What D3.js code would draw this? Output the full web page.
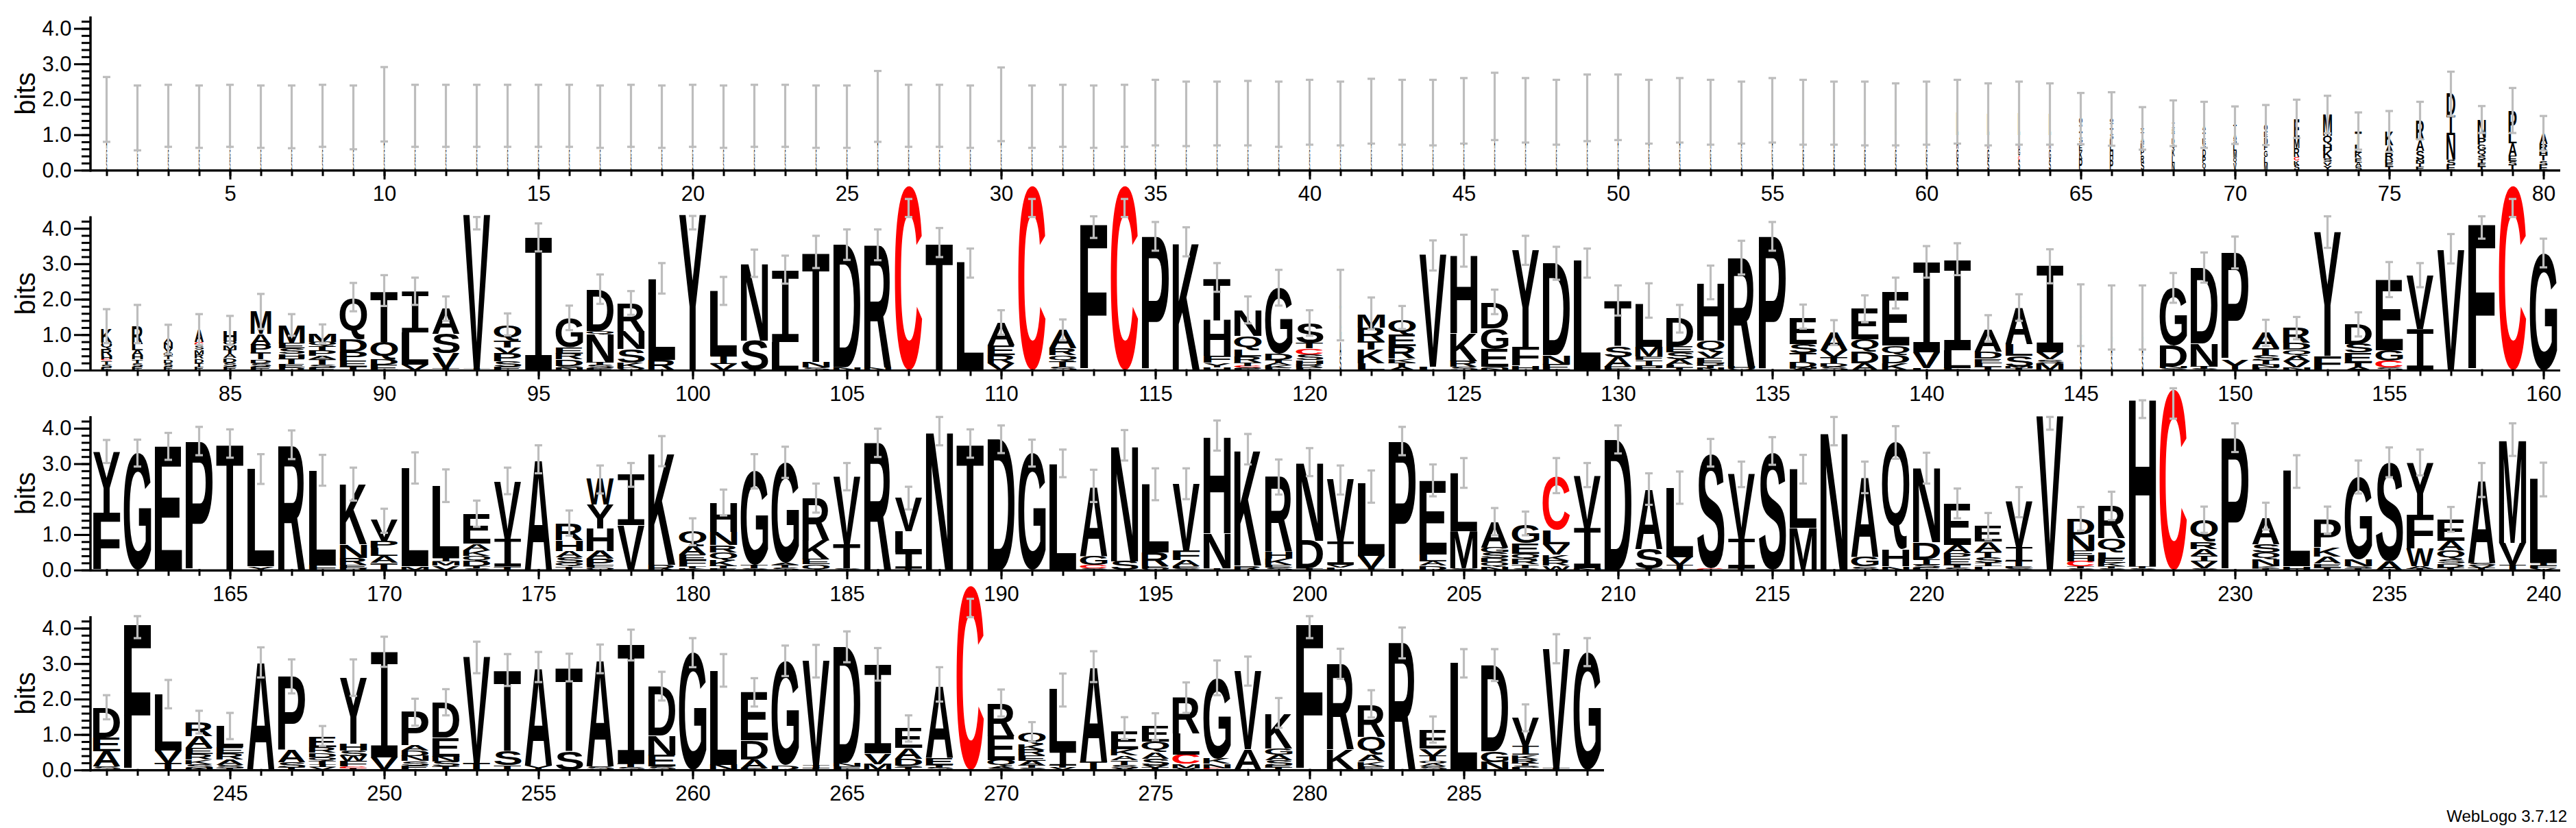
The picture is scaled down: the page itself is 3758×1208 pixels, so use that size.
<!DOCTYPE html>
<html><head><meta charset="utf-8">
<script src="https://cdn.jsdelivr.net/npm/d3@7"></script>
<style>body{margin:0;background:#fff}svg{display:block}</style>
</head><body>
<svg id="chart" width="3758" height="1208"></svg>
<script>
// ---------------- DATA ----------------
const rowStarts = [1, 81, 161, 241];
const rowLengths = [80, 80, 80, 49];
const yTickMajor = [0, 1, 2, 3, 4];
const footerText = "WebLogo 3.7.12";
const yLabel = "bits";

// stacks: letters bottom -> top, each "Letter+height(bits)"
const stacksRow1 = [
"S.3 G.3 A.4 L.72","S.3 G.3 A.4 L.48","S.3 G.3 A.4 L.54","S.3 G.3 A.4 L.51","S.3 G.3 A.4 L.54",
"S.3 G.3 A.4 L.51","S.3 G.3 A.4 L.5","S.3 G.3 A.4 L.54","S.3 G.3 A.4 L.49","S.3 G.3 A.4 L.86",
"S.3 G.3 A.4 L.54","S.3 G.3 A.4 L.54","S.3 G.3 A.4 L.54","S.3 G.3 A.4 L.54","S.3 G.3 A.4 L.54",
"S.3 G.3 A.4 L.54","S.3 G.3 A.4 L.51","S.3 G.3 A.4 L.54","S.3 G.3 A.4 L.51","S.3 G.3 A.4 L.54",
"S.3 G.3 A.4 L.51","S.3 G.3 A.4 L.54","S.3 G.3 A.4 L.54","S.3 G.3 A.4 L.51","S.3 G.3 A.4 L.51",
"S.3 G.3 A.4 L.8","S.3 G.3 A.4 L.54","S.3 G.3 A.4 L.54","S.3 G.3 A.4 L.51","S.3 G.3 A.4 L.86",
"S.3 G.3 A.4 L.51","S.3 G.3 A.4 L.54","S.3 G.3 A.4 L.51","S.3 G.3 A.4 L.54","S.3 G.3 A.4 L.63",
"S.3 G.3 A.4 L.59","S.3 G.3 A.4 L.6","S.3 G.3 A.4 L.61","S.3 G.3 A.4 L.58","S.3 G.3 A.4 L.64",
"S.3 G.3 A.4 L.6","S.3 G.3 A.4 L.67","S.3 G.3 A.4 L.64","S.3 G.3 A.4 L.63","S.3 G.3 A.4 L.68",
"S.3 G.3 A.4 L.8","S.3 G.3 A.4 L.69","S.3 G.3 A.4 L.64","S.3 G.3 A.4 L.76","S.3 G.3 A.4 L.78",
"S.3 G.3 A.4 L.65","S.3 G.3 A.4 L.69","S.3 G.3 A.4 L.64","S.3 G.3 A.4 L.63","S.3 G.3 A.4 L.69",
"S.3 G.3 A.4 L.64","S.3 G.3 A.4 L.61","S.3 G.3 A.4 L.6","S.3 G.3 A.4 L.58","S.3 G.3 A.4 L.61",
"S.3 G.3 A.4 L.65","S.3 G.3 A.4 L.58","S.3 C.1 G.2 A.4 L.61","S.3 G.3 A.4 L.59",
"P.32 K.22 E.18 C.05 S.15 T.15 I.2 Q.2","P.3 H.22 L.35 S.15 T.15 I.15 Q.14","S.22 R.2 P.15 E.2 A.15 T.15 V.13",
"N.2 L.2 K.2 Q.15 D.15 T.15 S.13 I.15","Q.2 P.2 D.2 S.15 E.15 T.15 I.1 A.13","V.2 Q.15 M.2 L.2 S.13 A.15 T.25",
"M.2 L.18 G.18 F.17 D.2 E.15 Q.2","S.15 K.12 C.1 R.25 M.28 E.55","Y.13 V.1 S.1 K.22 H.18 Q.25 M.59",
"S.1 A.12 E.13 K.14 L.22 T.4","T.1 E.1 D.1 R.2 A.2 K.4","E.1 T.1 N.1 S.25 A.3 R.55",
"E.14 S.15 N.71 I.55 D.61","T.1 E.1 I.1 S.12 Q.15 G.15 P.2 N.5","T.14 S.12 E.15 A.35 L.28 P.62",
"E.14 S.13 T.15 H.12 R.2 A.3"
];
const stacksRow2 = [
"E.08 S.08 T.1 C.04 H.1 R.2 Q.18 K.4","E.1 S.1 T.1 H.12 A.14 L.17 R.5","E.1 S.1 D.1 T.1 G.1 V.12 N.15 A.12",
"E.1 T.1 D.12 R.12 M.13 S.12 C.1 A.35","E.1 S.12 D.12 A.12 T.12 M.12 Q.12 H.3","E.1 S.1 D.1 T.2 P.22 A.3 M.66",
"D.08 E.1 T.15 H.13 S.15 E.15 M.5","E.08 S.08 T.15 A.1 P.15 T.12 Q.12 M.22","T.1 E.17 P.25 D.35 Q1.16",
"E.15 D.15 Q.5 T1.43","V.15 L.92 I1.16","T.05 V.42 S.55 A.72","I.05 V4.34","E.1 S.14 P.23 V.17 T.19 Q.43",
"I3.74","N.06 S.06 D.18 R.17 E.17 G.81","E.05 S.1 T.06 N.8 Q.1 D1.17","Q.06 K.14 S.39 N.5 R.78","R.29 L2.29",
"Y4.39","V.17 I.23 L1.83","S.84 N2.19","L.8 I2.02","S.08 N.16 T3.1","N.08 D3.47","N.07 R3.45","C5.2","T3.6",
"L3.05","V.2 R.23 E.27 A.65","C5.2","S.1 T.15 Q.17 R.19 A.52","F4.1","C5.2","P3.77","K3.61",
"H.08 Y.13 F.19 H1.02 T1.17","E.04 S.04 C.04 T.1 R.16 L.2 Q.38 N.72","E.06 K.07 A.08 T.08 D.16 G1.87",
"E.08 R.1 H.11 S.16 C.16 T.16 S.55","S.4 A.4 G.5 T.53","L.19 K.39 T.23 R.39 M.38","A.1 T.12 K.1 R.35 E.32 Q.41",
"L.1 V3.16","S.1 R.16 K.78 H2.22","N.05 S.05 E.5 G.58 D.72","H.12 F.52 Y2.75","E.16 N.26 D2.61","L3.1",
"E.05 P.05 A.27 S.3 T1.29","E.06 H.06 I.16 F.1 M.28 L1.21","T.07 L.08 A.15 S.2 E.17 D.78",
"N.06 T.07 D.07 E.14 V.17 Q.32 H1.63","Q.05 H.05 R3.07","P3.77","A.04 N.04 D.15 T.24 S.26 E.75",
"S.1 D.1 T.17 V.2 A.49","A.2 D.32 Q.35 E.87","K.2 D.22 Q.27 E1.5","L.05 V.45 I2.55","F.06 L.5 I2.55",
"T.1 L.1 E.13 D.2 A.63","T.05 M.05 S.3 L.33 A1.03","M.2 S.1 V.2 I2.44","S.4 A.4 G.35 T.4","S.4 A.35 G.35 T.38",
"S.4 A.35 G.35 T.38","S.05 N.05 D.6 G1.62","S.04 T.06 N.66 D2.14","Y.3 P3.02","E.07 N.08 I.12 S.15 T.2 A.44",
"N.08 V.17 A.16 Q.17 D.2 R.41","F.4 Y3.5","A.1 T.12 E.27 S.24 D.56","S.07 C.2 G.3 E1.98","I1.16 V1.52",
"V3.39","F4.1","C5.2","G3.3"
];
const stacksRow3 = [
"F1.6 Y1.73","G3.28","E3.49","P3.62","T3.57","Y.1 L2.76","R3.5","F.15 L2.66","D.06 E.09 R.2 N.38 K1.7",
"T.2 A.2 L.22 P.2 V.59","M.1 L2.77","V.12 M.13 I.1 L2.03","S.05 T.05 D.15 Q.15 K.16 A.18 E.85","T.1 I.79 V1.62",
"A3.11","T.1 Q.1 S.16 A.18 H.3 R.48","Q.06 F.07 P.19 A.22 H.64 Y.67 W.73","V1.27 I1.43","R.15 K3.18",
"K.05 T.05 F.18 E.15 A.25 Q.43","E.05 T.06 K.17 Q.22 R.2 N.38 H.82","S.06 T.09 G2.64","S.08 T.07 A.05 G2.83",
"Q.16 E.14 K.55 R1.19","S.05 T.68 V1.9","R3.59","T.05 I.45 L.6 V.93","N3.92","T3.57","D3.7","G3.3","L3.01",
"S.05 C.1 G.25 A1.96","S.25 N3.27","Q.05 E.05 R.4 L1.93","S.05 E.05 A.18 F.28 V1.88","I.05 N.98 H2.75",
"R.13 K3.28","S.07 E.08 K.18 H.2 R2.1","T.05 D.78 N2.2","L.07 V.08 I.65 V1.75","I.05 V.35 L2.05","P3.62",
"D.12 A.12 L.2 E2.07","S.05 M1.05 L1.63","N.1 Q.12 D.12 S.15 G.15 A.73","S.06 T.1 R.15 Q.15 E.3 G.51",
"W.12 R.15 K.16 V.3 L.4 C1.5","N.05 I1.13 V1.49","D3.68","T.05 S.55 A1.69","I.15 V.22 L1.95","C.05 S3.22",
"T.05 I.83 V1.82","S3.3","M1.2 L1.66","N3.9","S.1 G.28 A2.25","N.1 H.47 Q3.05","E.07 S.08 I.15 D.48 N2.1",
"S.08 T.06 E.18 P.15 A.23 E1.17","L.1 I.1 S.15 T.17 A.28 E.44","S.05 E.05 T.15 I.4 V1.28","V4.35",
"S.05 T.05 C.15 H.15 E.15 N.45 D.45","S.05 T.05 K.1 E.12 L.18 Q.4 R.91","S.05 T.05 H4.76","C5.1",
"S.05 V.2 I.15 A.2 R.2 Q.6","P3.72","T.05 K.05 N.2 Q.2 S.22 A.74","H.1 L2.69","T.08 E.1 A.2 K.25 P.78",
"T.05 S.05 N.2 G2.32","A.25 S2.78","T.04 A.06 W.5 F.96 Y1.46","T.08 D.1 S.12 Q.25 A.28 E.6",
"T.06 V.06 S.08 A2.34","I.15 V.62 M2.91","V.05 F.07 I.08 L2.37"
];
const stacksRow4 = [
"S.1 A.42 E.39 D.84","F4.1","T.2 V.35 L1.59","N.05 S.12 K.13 R.15 E.18 A.32 R.4","T.05 S.1 A.14 R.18 E.17 L.58",
"A3.03","T.06 S.15 A.35 P2.08","V.08 I.08 T.1 Q.1 D.13 R.15 E.3","T.05 C.05 F.15 W.15 S.15 H.2 Y1.86","V.35 I2.98",
"E.12 S.13 N.14 D.15 A.15 P.95","T.1 S.14 N.14 E.53 D.99","T.2 V2.99","T.13 S.4 T2.29","Y.13 A2.77","S.52 T2.36",
"S.1 A3.02","S.08 T.1 I3.34","S.1 E.32 N.55 D1.38","G3.31","N.15 L2.65","E.05 A.25 D.53 E1.36","D.13 G2.94",
"T.05 I.1 V2.95","F.1 N.1 D3.26","M.17 V.3 I2.5","T.06 S.06 D.2 A.3 E.57","S.07 T.08 E.2 A2.04","C5.2",
"S.05 A.05 Q.18 E.68 R.92","S.06 T.06 A.14 E.15 R.16 K.16 Q.33","V.06 T.06 I.4 L1.75","T.22 A2.68",
"V.05 S.1 T.13 A.13 K.18 E.5","T.06 V.06 S.2 A.18 Q.3 E.45","V.05 M.12 C.27 L.6 R1.02","C.05 N.13 K.15 G2.27",
"A.58 V2.2","T.06 E.06 S.16 A.15 G.17 K.98","F4.1","E.03 K.55 R2.41","E.1 K.13 A.2 Q.5 R.9","R3.59",
"S.1 A.08 Q.07 T.15 V.2 E.53","L3.02","N.22 G.3 D2.44","L.06 S.06 T.06 R.12 K.13 I.25 V.8","T.05 V3.36","G3.31"
];

// error bars [low, high] in bits
const errRow1 = [
[.80,2.63],[.56,2.39],[.66,2.41],[.63,2.39],[.66,2.41],[.63,2.39],[.62,2.39],[.66,2.41],[.59,2.39],[.81,2.91],
[.66,2.41],[.66,2.41],[.66,2.41],[.66,2.41],[.66,2.41],[.66,2.41],[.63,2.39],[.66,2.41],[.63,2.39],[.66,2.41],
[.63,2.39],[.66,2.41],[.66,2.41],[.63,2.39],[.63,2.39],[.8,2.8],[.66,2.41],[.66,2.41],[.63,2.39],[.82,2.9],
[.63,2.39],[.66,2.41],[.63,2.39],[.66,2.41],[.7,2.55],[.68,2.5],[.7,2.5],[.7,2.52],[.66,2.5],[.72,2.55],
[.7,2.5],[.75,2.58],[.72,2.55],[.7,2.55],[.75,2.6],[.85,2.75],[.78,2.6],[.72,2.55],[.82,2.7],[.85,2.7],
[.75,2.55],[.78,2.6],[.72,2.55],[.75,2.5],[.78,2.6],[.72,2.55],[.72,2.5],[.7,2.5],[.7,2.45],[.72,2.5],
[.75,2.55],[.7,2.45],[.72,2.5],[.72,2.45],[.73,2.18],[.69,2.2],[.58,1.78],[.68,1.97],[.63,1.93],[.74,1.8],
[.71,1.84],[.91,1.99],[1.04,2.1],[.58,1.63],[.52,1.67],[.87,1.93],[1.53,2.78],[1.05,1.81],[1.05,2.32],[.55,1.53]
];
const errRow2 = [
[.76,1.72],[.76,1.84],[.45,1.28],[.71,1.58],[.71,1.53],[1.16,2.15],[.97,1.58],[.77,1.29],[1.66,2.46],[1.81,2.68],
[1.84,2.61],[1.39,2.08],[3.97,4.32],[.98,1.6],[3.35,4.14],[1.13,1.82],[1.87,2.7],[1.56,2.23],[2.16,3.02],[3.97,4.35],
[1.84,2.63],[2.63,3.4],[2.44,3.23],[2.88,3.79],[3.11,3.97],[3.1,3.97],[4.32,4.83],[3.19,4.01],[2.61,3.43],[1.0,1.69],
[4.32,4.83],[.84,1.43],[3.73,4.34],[4.32,4.83],[3.37,4.18],[3.21,4.03],[2.21,3.02],[1.32,2.08],[1.82,2.83],[.97,1.69],
[.84,2.83],[1.15,2.05],[1.16,1.81],[2.81,3.66],[2.92,3.82],[1.58,2.27],[2.97,3.79],[2.55,3.48],[2.61,3.43],[1.54,2.39],
[1.48,2.45],[1.06,1.84],[2.0,2.95],[2.7,3.65],[3.37,4.18],[1.17,1.85],[.71,1.41],[1.35,2.11],[1.74,2.61],[2.61,3.5],
[2.68,3.58],[.81,1.55],[1.39,2.14],[2.45,3.41],[.68,2.42],[.58,2.39],[.58,2.39],[1.9,2.74],[2.47,3.32],[2.87,3.77],
[.68,1.42],[.87,1.5],[3.45,4.34],[.95,1.63],[2.06,3.05],[2.34,3.02],[3.01,3.84],[3.71,4.34],[4.32,4.83],[2.9,3.71]
];
const errRow3 = [
[3.02,3.67],[2.92,3.68],[3.11,3.87],[3.24,4.04],[3.17,3.97],[2.43,3.27],[3.13,3.94],[2.38,3.25],[1.96,2.89],[1.05,1.73],
[2.44,3.32],[1.92,2.84],[1.22,1.96],[2.14,2.89],[2.73,3.52],[.97,1.68],[2.16,2.95],[2.35,3.02],[2.93,3.78],[.7,1.46],
[1.54,2.27],[2.3,3.27],[2.6,3.48],[1.62,2.44],[2.25,3.02],[3.19,3.99],[1.71,2.35],[3.52,4.32],[3.17,3.97],[3.3,4.08],
[2.92,3.68],[2.62,3.4],[1.92,2.83],[3.09,3.95],[1.97,2.87],[2.0,2.87],[3.37,4.22],[2.98,3.84],[2.13,3.12],[2.65,3.44],
[2.13,2.95],[1.9,2.81],[3.24,4.04],[2.08,2.98],[2.32,3.16],[.98,1.75],[.98,1.65],[2.17,3.16],[2.34,3.02],[3.29,4.08],
[1.84,2.73],[1.87,2.78],[2.92,3.7],[2.34,3.06],[2.97,3.75],[2.44,3.25],[3.52,4.32],[2.17,3.06],[3.14,4.06],[2.44,3.31],
[1.46,2.3],[.86,1.61],[1.49,2.34],[3.96,4.32],[1.11,1.78],[1.41,2.21],[4.29,4.79],[4.27,5.13],[1.05,1.79],[3.33,4.14],
[1.14,1.9],[2.32,3.24],[1.02,1.79],[2.16,3.09],[2.62,3.46],[2.67,3.4],[1.08,1.78],[2.06,3.02],[3.22,4.14],[2.08,3.03]
];
const errRow4 = [
[1.43,2.11],[3.72,4.34],[1.74,2.54],[1.03,1.67],[.87,1.61],[2.61,3.46],[2.16,3.12],[.68,1.24],[2.09,3.12],[2.91,3.76],
[1.25,2.01],[1.54,2.28],[2.73,3.62],[2.37,3.27],[2.48,3.33],[2.5,3.28],[2.73,3.54],[3.09,3.96],[1.96,2.77],[2.9,3.72],
[2.35,3.27],[1.79,2.59],[2.65,3.51],[2.61,3.53],[3.04,3.91],[2.52,3.44],[.8,1.54],[1.93,2.9],[4.31,4.83],[1.51,2.27],
[.8,1.35],[1.79,2.72],[2.48,3.35],[.87,1.49],[.84,1.6],[1.61,2.47],[2.11,3.09],[2.38,3.2],[1.19,2.03],[3.72,4.34],
[2.57,3.42],[1.48,2.25],[3.15,4.02],[.77,1.51],[2.61,3.41],[2.51,3.41],[1.09,1.85],[3.01,3.83],[2.93,3.72]
];

// fraction of full stack width (gappy columns are drawn narrow)
const widthRow1 = [
.035,.035,.035,.035,.035,.035,.035,.035,.035,.035,.035,.035,.035,.035,.035,.035,.035,.035,.035,.035,
.035,.035,.035,.035,.035,.035,.035,.035,.035,.035,.035,.035,.035,.035,.035,.035,.035,.035,.035,.035,
.035,.035,.035,.035,.035,.035,.035,.035,.035,.035,.04,.04,.04,.04,.04,.05,.05,.05,.05,.05,
.07,.07,.07,.07,.12,.12,.12,.1,.12,.12,.13,.2,.32,.25,.3,.3,.32,.3,.3,.3
];
const narrowStacks = [[81,.4],[82,.4],[83,.33],[84,.33],[85,.48],[86,.75],[87,.95],[121,.06],[145,.05],[146,.05],[147,.05]];

// ---------------- LAYOUT ----------------
const stacksAll = [stacksRow1, stacksRow2, stacksRow3, stacksRow4];
const errAll = [errRow1, errRow2, errRow3, errRow4];
const LEFT = 133, POS_W = 45, STACK_W = 40;
const BASE0 = 248.3, ROW_GAP = 291.67, BIT = 51.7, YMAX = 4.32;
const ERR_COLOR = "#bdbdbd";
const narrowMap = new Map(narrowStacks);

const svg = d3.select("#chart");
svg.append("rect").attr("width", 3758).attr("height", 1208).attr("fill", "#fff");

const cv = document.createElement("canvas").getContext("2d");
const metricCache = {};
function letterFont(ch) {
  return ch === "I" ? {fam: '"DejaVu Sans Mono", monospace', wt: "normal"} : {fam: '"Liberation Sans", Arial, sans-serif', wt: "bold"};
}
function ink(ch) {
  if (metricCache[ch]) return metricCache[ch];
  const f = letterFont(ch);
  cv.font = `${f.wt} 100px ${f.fam}`;
  const m = cv.measureText(ch);
  let r = {l: m.actualBoundingBoxLeft, r: m.actualBoundingBoxRight, a: m.actualBoundingBoxAscent, d: m.actualBoundingBoxDescent};
  if (!(r.r > 0)) r = {l: 0, r: m.width || 60, a: 72, d: 0};
  metricCache[ch] = r;
  return r;
}
function parseStack(s) {
  return s.trim().split(/\s+/).map(t => ({ch: t[0], h: parseFloat(t.slice(1))}));
}

const logo = svg.append("g");

for (let r = 0; r < 4; r++) {
  const start = rowStarts[r], n = rowLengths[r];
  const base = BASE0 + r * ROW_GAP;
  const x = d3.scaleLinear().domain([start - 0.5, start + n - 0.5]).range([LEFT, LEFT + n * POS_W]);
  const y = d3.scaleLinear().domain([0, YMAX]).range([base, base - YMAX * BIT]);
  const g = logo.append("g");
  const positions = d3.range(start, start + n);

  // stacks
  positions.forEach((p, i) => {
    const frac = r === 0 ? widthRow1[i] : (narrowMap.get(p) || 1);
    const w = STACK_W * frac;
    const cx = x(p);
    let cum = 0;
    parseStack(stacksAll[r][i]).forEach(({ch, h}) => {
      const y0 = y(cum), y1 = y(cum + h);
      cum += h;
      const bh = y0 - y1;
      if (bh < 0.3) return;
      const m = ink(ch), f = letterFont(ch);
      const sx = w / (m.l + m.r), sy = bh / (m.a + m.d);
      g.append("text")
        .attr("font-family", f.fam).attr("font-weight", f.wt).attr("font-size", 100)
        .attr("fill", ch === "C" ? "#ff0000" : "#000")
        .attr("transform", `translate(${cx - w / 2},${y1}) scale(${sx},${sy}) translate(${m.l},${m.a})`)
        .text(ch);
    });
  });

  // error bars
  const eg = g.append("g").attr("stroke", ERR_COLOR).attr("stroke-width", 3.2).attr("fill", "none");
  positions.forEach((p, i) => {
    const [lo, hi] = errAll[r][i];
    const cx = x(p);
    eg.append("line").attr("x1", cx).attr("x2", cx).attr("y1", y(lo)).attr("y2", y(hi));
    eg.append("line").attr("x1", cx - 5.5).attr("x2", cx + 5.5).attr("y1", y(lo)).attr("y2", y(lo));
    eg.append("line").attr("x1", cx - 5.5).attr("x2", cx + 5.5).attr("y1", y(hi)).attr("y2", y(hi));
  });

  // axes
  const axFont = '"Liberation Sans", Arial, sans-serif';
  const minorY = d3.range(22).map(k => +(k * 0.2).toFixed(1));
  const ay1 = g.append("g").attr("transform", `translate(${LEFT - 1.5},0)`)
    .call(d3.axisLeft(y).tickValues(minorY).tickSize(11).tickSizeOuter(0).tickFormat(""));
  const ay2 = g.append("g").attr("transform", `translate(${LEFT - 1.5},0)`)
    .call(d3.axisLeft(y).tickValues(yTickMajor).tickSize(22).tickSizeOuter(0).tickPadding(5).tickFormat(d3.format(".1f")));
  const ax1 = g.append("g").attr("transform", `translate(0,${base})`)
    .call(d3.axisBottom(x).tickValues(positions).tickSize(7).tickSizeOuter(0).tickFormat(""));
  const ax2 = g.append("g").attr("transform", `translate(0,${base})`)
    .call(d3.axisBottom(x).tickValues(positions.filter(p => p % 5 === 0)).tickSize(12).tickSizeOuter(0).tickPadding(11).tickFormat(d3.format("d")));
  [ay1, ay2, ax1, ax2].forEach(a => {
    a.selectAll("path,line").attr("stroke", "#000").attr("stroke-width", 3).attr("stroke-linecap", "square");
    a.selectAll("text").attr("font-family", axFont).attr("font-size", 31).attr("fill", "#000");
  });

  // y label
  g.append("text")
    .attr("transform", `translate(51,${base - YMAX * BIT / 2}) rotate(-90)`)
    .attr("text-anchor", "middle")
    .attr("font-family", axFont).attr("font-size", 40).attr("fill", "#000")
    .text(yLabel);
}

svg.append("text").attr("x", 3745).attr("y", 1199).attr("text-anchor", "end")
  .attr("font-family", '"Liberation Sans", Arial, sans-serif').attr("font-size", 24).attr("fill", "#000")
  .text(footerText);
</script>
</body></html>
